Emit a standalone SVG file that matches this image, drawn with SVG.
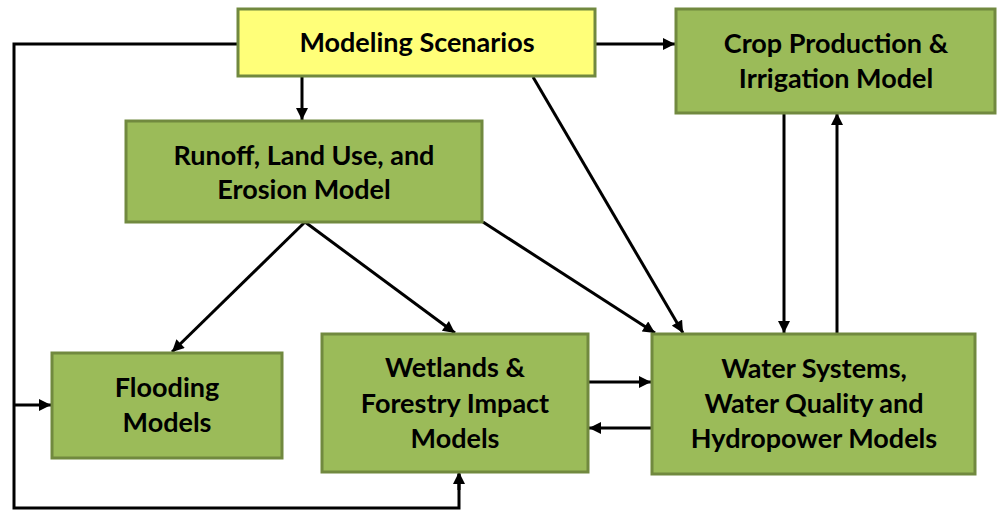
<svg xmlns="http://www.w3.org/2000/svg" width="998" height="512" viewBox="0 0 998 512">
<defs>
<marker id="ah" viewBox="0 0 10 10" refX="10" refY="5" markerWidth="4.2" markerHeight="4" orient="auto" markerUnits="strokeWidth">
<path d="M0,0 L10,5 L0,10 Z" fill="#000"/>
</marker>
<style>
.box{fill:#9BBB59;stroke:#71893F;stroke-width:3}
.ybox{fill:#FFFF79;stroke:#71893F;stroke-width:3}
.t{font-family:"Lato","Liberation Sans",sans-serif;font-weight:bold;font-size:27px;fill:#000;text-anchor:middle}
.c{fill:none;stroke:#000;stroke-width:3}
.a{marker-end:url(#ah)}
</style>
</defs>
<rect width="998" height="512" fill="#fff"/>
<g id="connectors">
<path class="c" d="M238,44 H14 V508 H459 V474"/>
<path class="c a" d="M459,490 V472"/>
<path class="c a" d="M14,405 H51"/>
<path class="c a" d="M596,44 H675"/>
<path class="c a" d="M302,76 V120"/>
<path class="c a" d="M533,77 L683,333"/>
<path class="c a" d="M305,222 L172,352"/>
<path class="c a" d="M305,222 L455,333"/>
<path class="c a" d="M483,222 L655,333"/>
<path class="c a" d="M784,113 V333"/>
<path class="c a" d="M837,333 V113"/>
<path class="c a" d="M588,382 H651"/>
<path class="c a" d="M652,428 H589"/>
</g>
<g id="modeling">
<rect class="ybox" x="238" y="9" width="357" height="67"/>
<text class="t" x="417" y="52">Modeling Scenarios</text>
</g>
<g id="crop">
<rect class="box" x="676" y="9" width="319" height="104"/>
<text class="t" x="836" y="53">Crop Production &amp;</text>
<text class="t" x="836" y="88">Irrigation Model</text>
</g>
<g id="runoff">
<rect class="box" x="126" y="121" width="356" height="101"/>
<text class="t" x="304" y="165">Runoff, Land Use, and</text>
<text class="t" x="304" y="199">Erosion Model</text>
</g>
<g id="flooding">
<rect class="box" x="52" y="353" width="230" height="105"/>
<text class="t" x="167" y="397">Flooding</text>
<text class="t" x="167" y="432">Models</text>
</g>
<g id="wetlands">
<rect class="box" x="322" y="334" width="266" height="138"/>
<text class="t" x="455" y="377">Wetlands &amp;</text>
<text class="t" x="455" y="413">Forestry Impact</text>
<text class="t" x="455" y="448">Models</text>
</g>
<g id="water">
<rect class="box" x="652" y="334" width="323" height="140"/>
<text class="t" x="814" y="378">Water Systems,</text>
<text class="t" x="814" y="413">Water Quality and</text>
<text class="t" x="814" y="448">Hydropower Models</text>
</g>
</svg>
